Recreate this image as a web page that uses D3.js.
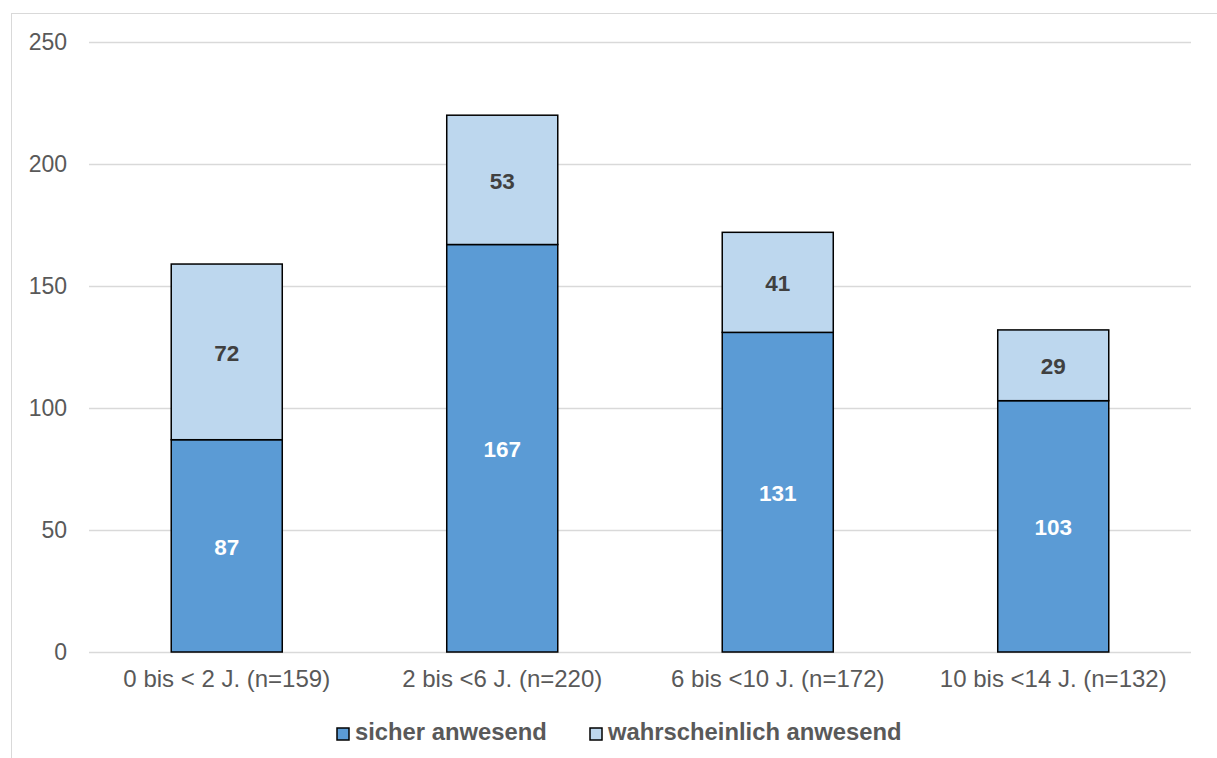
<!DOCTYPE html>
<html>
<head>
<meta charset="utf-8">
<script src="https://cdn.jsdelivr.net/npm/d3@7"></script>
<style>
  html, body { margin: 0; padding: 0; background: #fff; }
  svg { display: block; font-family: "Liberation Sans", Arial, sans-serif; }
</style>
</head>
<body>
<svg id="chart" width="1217" height="758"></svg>
<script>
const categories = ["0 bis < 2 J. (n=159)", "2 bis <6 J. (n=220)", "6 bis <10 J. (n=172)", "10 bis <14 J. (n=132)"];
const sicher = [87, 167, 131, 103];
const wahrscheinlich = [72, 53, 41, 29];
const seriesNames = ["sicher anwesend", "wahrscheinlich anwesend"];
const yTicks = [0, 50, 100, 150, 200, 250];

const colors = ["#5B9BD5", "#BDD7EE"];
const labelColors = ["#ffffff", "#404040"];

const svg = d3.select("#chart");

// Chart frame
svg.append("rect")
  .attr("x", 11.5).attr("y", 13.5)
  .attr("width", 1220).attr("height", 760)
  .attr("fill", "none").attr("stroke", "#d9d9d9").attr("stroke-width", 1);

const plot = { left: 89, right: 1191, top: 42, bottom: 652 };

const x = d3.scaleBand().domain(categories).range([plot.left, plot.right]).padding(0);
const y = d3.scaleLinear().domain([0, 250]).range([plot.bottom, plot.top]);
const barW = x.bandwidth() * 0.403;

// Gridlines
svg.append("g").selectAll("line").data(yTicks).join("line")
  .attr("x1", plot.left).attr("x2", plot.right)
  .attr("y1", d => Math.round(y(d)) + 0.5).attr("y2", d => Math.round(y(d)) + 0.5)
  .attr("stroke", "#d9d9d9").attr("stroke-width", 1.5);

// Y axis labels
const yAxis = d3.axisLeft(y).tickValues(yTicks).tickSize(0).tickPadding(0);
const yg = svg.append("g").attr("transform", `translate(67,0)`).call(yAxis);
yg.select(".domain").remove();
yg.selectAll("text").attr("font-size", 23).attr("fill", "#595959")
  .attr("font-family", "Liberation Sans, Arial, sans-serif");

// Stacked data
const rows = categories.map((c, i) => ({ cat: c, s: sicher[i], w: wahrscheinlich[i] }));
const stack = d3.stack().keys(["s", "w"])(rows);

const layers = svg.append("g").selectAll("g").data(stack).join("g")
  .attr("fill", (d, i) => colors[i]);

layers.selectAll("rect").data(d => d).join("rect")
  .attr("x", d => x(d.data.cat) + x.bandwidth() / 2 - barW / 2)
  .attr("width", barW)
  .attr("y", d => y(d[1]))
  .attr("height", d => y(d[0]) - y(d[1]))
  .attr("stroke", "#000").attr("stroke-width", 1.5);

// Value labels
stack.forEach((layer, li) => {
  svg.append("g").selectAll("text").data(layer).join("text")
    .attr("x", d => x(d.data.cat) + x.bandwidth() / 2)
    .attr("y", d => (y(d[0]) + y(d[1])) / 2)
    .attr("dy", "0.40em")
    .attr("text-anchor", "middle")
    .attr("font-size", 22.5).attr("font-weight", "bold")
    .attr("fill", labelColors[li])
    .text(d => d[1] - d[0]);
});

// X axis labels
const xAxis = d3.axisBottom(x).tickSize(0).tickPadding(0);
const xg = svg.append("g").attr("transform", `translate(0,${plot.bottom + 35})`).call(xAxis);
xg.select(".domain").remove();
xg.selectAll("text").attr("font-size", 24).attr("fill", "#595959").attr("dy", 0)
  .attr("font-family", "Liberation Sans, Arial, sans-serif");

// Legend
const legend = svg.append("g").attr("transform", "translate(0,740)");
const legendX = [337, 590];
seriesNames.forEach((name, i) => {
  legend.append("rect")
    .attr("x", legendX[i]).attr("y", -12)
    .attr("width", 12).attr("height", 12)
    .attr("fill", colors[i]).attr("stroke", "#000").attr("stroke-width", 1.5);
  legend.append("text")
    .attr("x", legendX[i] + 18).attr("y", 0)
    .attr("font-size", 23.8).attr("font-weight", "bold").attr("fill", "#595959")
    .text(name);
});
</script>
</body>
</html>
